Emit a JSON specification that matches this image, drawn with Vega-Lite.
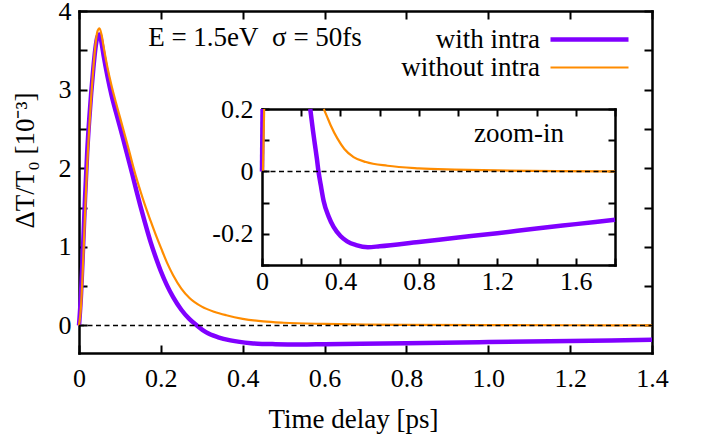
{
  "$schema": "https://vega.github.io/schema/vega-lite/v6.json",
  "width": 573,
  "height": 342,
  "autosize": {"type": "none"},
  "padding": {"left": 79, "top": 11, "right": 53, "bottom": 84},
  "background": "white",
  "datasets": {
    "main": [
      {"t": 0, "v": 0, "series": "with intra"},
      {"t": 0.005, "v": 0.4, "series": "with intra"},
      {"t": 0.01, "v": 1.0, "series": "with intra"},
      {"t": 0.015, "v": 1.65, "series": "with intra"},
      {"t": 0.02, "v": 2.2, "series": "with intra"},
      {"t": 0.025, "v": 2.62, "series": "with intra"},
      {"t": 0.03, "v": 2.97, "series": "with intra"},
      {"t": 0.035, "v": 3.27, "series": "with intra"},
      {"t": 0.04, "v": 3.52, "series": "with intra"},
      {"t": 0.045, "v": 3.67, "series": "with intra"},
      {"t": 0.05, "v": 3.7, "series": "with intra"},
      {"t": 0.055, "v": 3.6, "series": "with intra"},
      {"t": 0.06, "v": 3.44, "series": "with intra"},
      {"t": 0.07, "v": 3.16, "series": "with intra"},
      {"t": 0.08, "v": 2.92, "series": "with intra"},
      {"t": 0.09, "v": 2.72, "series": "with intra"},
      {"t": 0.1, "v": 2.53, "series": "with intra"},
      {"t": 0.11, "v": 2.33, "series": "with intra"},
      {"t": 0.12, "v": 2.13, "series": "with intra"},
      {"t": 0.13, "v": 1.93, "series": "with intra"},
      {"t": 0.14, "v": 1.72, "series": "with intra"},
      {"t": 0.15, "v": 1.52, "series": "with intra"},
      {"t": 0.16, "v": 1.33, "series": "with intra"},
      {"t": 0.175, "v": 1.06, "series": "with intra"},
      {"t": 0.19, "v": 0.83, "series": "with intra"},
      {"t": 0.2, "v": 0.69, "series": "with intra"},
      {"t": 0.215, "v": 0.51, "series": "with intra"},
      {"t": 0.23, "v": 0.36, "series": "with intra"},
      {"t": 0.25, "v": 0.2, "series": "with intra"},
      {"t": 0.27, "v": 0.08, "series": "with intra"},
      {"t": 0.288, "v": 0, "series": "with intra"},
      {"t": 0.31, "v": -0.085, "series": "with intra"},
      {"t": 0.34, "v": -0.15, "series": "with intra"},
      {"t": 0.37, "v": -0.19, "series": "with intra"},
      {"t": 0.42, "v": -0.225, "series": "with intra"},
      {"t": 0.48, "v": -0.238, "series": "with intra"},
      {"t": 0.54, "v": -0.242, "series": "with intra"},
      {"t": 0.6, "v": -0.238, "series": "with intra"},
      {"t": 0.8, "v": -0.225, "series": "with intra"},
      {"t": 1.0, "v": -0.211, "series": "with intra"},
      {"t": 1.2, "v": -0.197, "series": "with intra"},
      {"t": 1.4, "v": -0.183, "series": "with intra"},
      {"t": 0, "v": 0, "series": "without intra"},
      {"t": 0.005, "v": 0.25, "series": "without intra"},
      {"t": 0.01, "v": 0.8, "series": "without intra"},
      {"t": 0.015, "v": 1.45, "series": "without intra"},
      {"t": 0.02, "v": 2.05, "series": "without intra"},
      {"t": 0.025, "v": 2.52, "series": "without intra"},
      {"t": 0.03, "v": 2.92, "series": "without intra"},
      {"t": 0.035, "v": 3.27, "series": "without intra"},
      {"t": 0.04, "v": 3.56, "series": "without intra"},
      {"t": 0.045, "v": 3.74, "series": "without intra"},
      {"t": 0.05, "v": 3.78, "series": "without intra"},
      {"t": 0.055, "v": 3.7, "series": "without intra"},
      {"t": 0.06, "v": 3.55, "series": "without intra"},
      {"t": 0.07, "v": 3.27, "series": "without intra"},
      {"t": 0.08, "v": 3.04, "series": "without intra"},
      {"t": 0.09, "v": 2.84, "series": "without intra"},
      {"t": 0.1, "v": 2.65, "series": "without intra"},
      {"t": 0.11, "v": 2.46, "series": "without intra"},
      {"t": 0.12, "v": 2.27, "series": "without intra"},
      {"t": 0.13, "v": 2.07, "series": "without intra"},
      {"t": 0.14, "v": 1.88, "series": "without intra"},
      {"t": 0.15, "v": 1.71, "series": "without intra"},
      {"t": 0.16, "v": 1.55, "series": "without intra"},
      {"t": 0.175, "v": 1.33, "series": "without intra"},
      {"t": 0.19, "v": 1.12, "series": "without intra"},
      {"t": 0.2, "v": 0.99, "series": "without intra"},
      {"t": 0.215, "v": 0.8, "series": "without intra"},
      {"t": 0.23, "v": 0.64, "series": "without intra"},
      {"t": 0.25, "v": 0.47, "series": "without intra"},
      {"t": 0.27, "v": 0.35, "series": "without intra"},
      {"t": 0.3, "v": 0.24, "series": "without intra"},
      {"t": 0.33, "v": 0.175, "series": "without intra"},
      {"t": 0.36, "v": 0.13, "series": "without intra"},
      {"t": 0.4, "v": 0.085, "series": "without intra"},
      {"t": 0.45, "v": 0.052, "series": "without intra"},
      {"t": 0.5, "v": 0.035, "series": "without intra"},
      {"t": 0.6, "v": 0.02, "series": "without intra"},
      {"t": 0.7, "v": 0.012, "series": "without intra"},
      {"t": 0.8, "v": 0.008, "series": "without intra"},
      {"t": 1.0, "v": 0.005, "series": "without intra"},
      {"t": 1.2, "v": 0.003, "series": "without intra"},
      {"t": 1.4, "v": 0.002, "series": "without intra"}
    ],
    "inset": [
      {"t": 0, "v": 0, "series": "with intra", "seg": "a"},
      {"t": 0.003, "v": 0.2, "series": "with intra", "seg": "a"},
      {"t": 0.246, "v": 0.2, "series": "with intra", "seg": "b"},
      {"t": 0.26, "v": 0.13, "series": "with intra", "seg": "b"},
      {"t": 0.27, "v": 0.085, "series": "with intra", "seg": "b"},
      {"t": 0.28, "v": 0.04, "series": "with intra", "seg": "b"},
      {"t": 0.288, "v": 0, "series": "with intra", "seg": "b"},
      {"t": 0.3, "v": -0.045, "series": "with intra", "seg": "b"},
      {"t": 0.314, "v": -0.094, "series": "with intra", "seg": "b"},
      {"t": 0.34, "v": -0.145, "series": "with intra", "seg": "b"},
      {"t": 0.365, "v": -0.178, "series": "with intra", "seg": "b"},
      {"t": 0.4, "v": -0.207, "series": "with intra", "seg": "b"},
      {"t": 0.434, "v": -0.224, "series": "with intra", "seg": "b"},
      {"t": 0.48, "v": -0.236, "series": "with intra", "seg": "b"},
      {"t": 0.54, "v": -0.243, "series": "with intra", "seg": "b"},
      {"t": 0.6, "v": -0.24, "series": "with intra", "seg": "b"},
      {"t": 0.8, "v": -0.226, "series": "with intra", "seg": "b"},
      {"t": 1.0, "v": -0.212, "series": "with intra", "seg": "b"},
      {"t": 1.2, "v": -0.198, "series": "with intra", "seg": "b"},
      {"t": 1.4, "v": -0.183, "series": "with intra", "seg": "b"},
      {"t": 1.6, "v": -0.169, "series": "with intra", "seg": "b"},
      {"t": 1.8, "v": -0.155, "series": "with intra", "seg": "b"},
      {"t": 0.005, "v": 0, "series": "without intra", "seg": "a"},
      {"t": 0.011, "v": 0.2, "series": "without intra", "seg": "a"},
      {"t": 0.315, "v": 0.2, "series": "without intra", "seg": "b"},
      {"t": 0.33, "v": 0.178, "series": "without intra", "seg": "b"},
      {"t": 0.35, "v": 0.148, "series": "without intra", "seg": "b"},
      {"t": 0.385, "v": 0.105, "series": "without intra", "seg": "b"},
      {"t": 0.42, "v": 0.072, "series": "without intra", "seg": "b"},
      {"t": 0.467, "v": 0.046, "series": "without intra", "seg": "b"},
      {"t": 0.53, "v": 0.03, "series": "without intra", "seg": "b"},
      {"t": 0.64, "v": 0.018, "series": "without intra", "seg": "b"},
      {"t": 0.8, "v": 0.01, "series": "without intra", "seg": "b"},
      {"t": 0.98, "v": 0.006, "series": "without intra", "seg": "b"},
      {"t": 1.2, "v": 0.003, "series": "without intra", "seg": "b"},
      {"t": 1.5, "v": 0.001, "series": "without intra", "seg": "b"},
      {"t": 1.8, "v": 0.0, "series": "without intra", "seg": "b"}
    ]
  },
  "config": {
    "view": {"stroke": null},
    "axis": {
      "labelFont": "Liberation Serif",
      "labelFontSize": 26,
      "labelColor": "black",
      "tickColor": "black",
      "domainColor": "black",
      "domainWidth": 2.5,
      "domainCap": "square",
      "tickWidth": 2,
      "grid": false,
      "labelFlush": false,
      "labelOverlap": false,
      "labelBound": false,
      "titleFont": "Liberation Serif",
      "titleFontSize": 27,
      "titleFontWeight": "normal",
      "titleColor": "black",
      "zindex": 2
    }
  },
  "resolve": {
    "scale": {"x": "independent", "y": "independent"},
    "axis": {"x": "independent", "y": "independent"}
  },
  "layer": [
    {
      "layer": [
        {
          "data": {"name": "main"},
          "mark": {"type": "line", "interpolate": "monotone"},
          "encoding": {
            "x": {
              "field": "t", "type": "quantitative",
              "scale": {"domain": [0, 1.4], "nice": false, "zero": false},
              "axis": {
                "orient": "bottom",
                "values": [0, 0.2, 0.4, 0.6, 0.8, 1.0, 1.2, 1.4],
                "labelExpr": "datum.value === 0 ? '0' : format(datum.value, '.1f')",
                "labelFont": "Liberation Serif",
                "labelPadding": 20,
                "tickSize": -8,
                "encoding": {"labels": {"update": {"font": {"value": "Liberation Serif"}, "fontSize": {"value": 26}}}},
                "title": "Time delay [ps]",
                "titleX": 274,
                "titleY": 74,
                "titleBaseline": "alphabetic",
                "titleAlign": "center"
              }
            },
            "y": {
              "field": "v", "type": "quantitative",
              "scale": {"domain": [-0.35, 4], "nice": false, "zero": false},
              "axis": {
                "orient": "left",
                "values": [0, 0.5, 1, 1.5, 2, 2.5, 3, 3.5, 4],
                "labelExpr": "datum.value % 1 === 0 ? format(datum.value, 'd') : ''",
                "labelFont": "Liberation Serif",
                "labelPadding": 16,
                "tickSize": -8,
                "encoding": {"labels": {"update": {"font": {"value": "Liberation Serif"}, "fontSize": {"value": 26}}}},
                "title": "ΔT/T₀ [10⁻³]",
                "titleX": -54,
                "titleY": 149,
                "titleAngle": -90,
                "titleBaseline": "middle",
                "titleAlign": "center"
              }
            },
            "color": {
              "field": "series", "type": "nominal",
              "scale": {"domain": ["with intra", "without intra"], "range": ["#8000ff", "#ff8c00"]},
              "legend": {
                "orient": "none",
                "legendX": 495,
                "legendY": 13,
                "title": null,
                "symbolType": "M-3,0H3",
                "symbolSize": 676,
                "labelAlign": "right",
                "labelOffset": -65,
                "labelFont": "Liberation Serif",
                "labelFontSize": 27,
                "labelColor": "black",
                "labelLimit": 400,
                "rowPadding": 0,
                "padding": 0,
                "encode": {
                  "symbols": {
                    "update": {
                      "strokeWidth": {"signal": "datum.label === 'with intra' ? 4.5 : 2.2"}
                    }
                  }
                }
              }
            },
            "strokeWidth": {
              "field": "series", "type": "nominal",
              "scale": {"domain": ["with intra", "without intra"], "range": [4.5, 2.2]},
              "legend": null
            }
          }
        },
        {
          "data": {"values": [{}]},
          "mark": {"type": "text", "font": "Liberation Serif", "fontSize": 27, "color": "black", "align": "center", "baseline": "middle"},
          "encoding": {
            "x": {"datum": 0.43, "type": "quantitative"},
            "y": {"datum": 3.66, "type": "quantitative"},
            "text": {"value": "E = 1.5eV\u00a0 σ = 50fs"}
          }
        }
      ]
    },
    {
      "data": {"values": [{}]},
      "mark": {"type": "rule", "color": "black", "strokeWidth": 1.5, "strokeDash": [5, 3.5]},
      "encoding": {
        "x": {
          "datum": 0, "type": "quantitative",
          "scale": {"domain": [0, 1.4], "nice": false, "zero": false},
          "axis": {"orient": "top", "values": [0, 0.2, 0.4, 0.6, 0.8, 1.0, 1.2, 1.4], "labels": false, "title": null, "tickSize": -8}
        },
        "x2": {"datum": 1.4},
        "y": {
          "datum": 0, "type": "quantitative",
          "scale": {"domain": [-0.35, 4], "nice": false, "zero": false},
          "axis": {"orient": "right", "values": [0, 0.5, 1, 1.5, 2, 2.5, 3, 3.5, 4], "labels": false, "title": null, "tickSize": -8}
        }
      }
    },
    {
      "layer": [
        {
          "data": {"name": "inset"},
          "mark": {"type": "line", "interpolate": "monotone"},
          "encoding": {
            "x": {
              "field": "t", "type": "quantitative",
              "scale": {"domain": [0, 1.8], "range": [183, 536], "nice": false, "zero": false},
              "axis": {
                "orient": "bottom",
                "offset": -88,
                "values": [0, 0.2, 0.4, 0.6, 0.8, 1.0, 1.2, 1.4, 1.6, 1.8],
                "labelExpr": "round(datum.value * 10) % 4 === 0 ? (datum.value === 0 ? '0' : format(datum.value, '.1f')) : ''",
                "labelFont": "Liberation Serif",
                "labelPadding": 10,
                "tickSize": -7,
                "encoding": {"labels": {"update": {"font": {"value": "Liberation Serif"}, "fontSize": {"value": 26}}}},
                "title": null
              }
            },
            "y": {
              "field": "v", "type": "quantitative",
              "scale": {"domain": [-0.3, 0.2], "range": [254, 98], "nice": false, "zero": false},
              "axis": {
                "orient": "left",
                "offset": -183,
                "values": [-0.3, -0.2, -0.1, 0, 0.1, 0.2],
                "labelExpr": "round(datum.value * 10) % 2 === 0 ? (abs(datum.value) < 0.001 ? '0' : (datum.value < 0 ? '-' : '') + format(abs(datum.value), '.1f')) : ''",
                "labelFont": "Liberation Serif",
                "labelPadding": 16,
                "tickSize": -7,
                "encoding": {"labels": {"update": {"font": {"value": "Liberation Serif"}, "fontSize": {"value": 26}}}},
                "title": null
              }
            },
            "color": {
              "field": "series", "type": "nominal",
              "scale": {"domain": ["with intra", "without intra"], "range": ["#8000ff", "#ff8c00"]},
              "legend": null
            },
            "strokeWidth": {
              "field": "series", "type": "nominal",
              "scale": {"domain": ["with intra", "without intra"], "range": [4.5, 2.2]},
              "legend": null
            },
            "detail": {"field": "seg", "type": "nominal"}
          }
        },
        {
          "data": {"values": [{}]},
          "mark": {"type": "text", "font": "Liberation Serif", "fontSize": 27, "color": "black", "align": "center", "baseline": "middle"},
          "encoding": {
            "x": {"datum": 1.31, "type": "quantitative"},
            "y": {"datum": 0.12, "type": "quantitative"},
            "text": {"value": "zoom-in"}
          }
        }
      ]
    },
    {
      "data": {"values": [{}]},
      "mark": {"type": "rule", "color": "black", "strokeWidth": 1.5, "strokeDash": [5, 3.5]},
      "encoding": {
        "x": {
          "datum": 0, "type": "quantitative",
          "scale": {"domain": [0, 1.8], "range": [183, 536], "nice": false, "zero": false},
          "axis": {"orient": "top", "offset": -98, "values": [0, 0.2, 0.4, 0.6, 0.8, 1.0, 1.2, 1.4, 1.6, 1.8], "labels": false, "title": null, "tickSize": -7}
        },
        "x2": {"datum": 1.8},
        "y": {
          "datum": 0, "type": "quantitative",
          "scale": {"domain": [-0.3, 0.2], "range": [254, 98], "nice": false, "zero": false},
          "axis": {"orient": "right", "offset": -37, "values": [-0.3, -0.2, -0.1, 0, 0.1, 0.2], "labels": false, "title": null, "tickSize": -7}
        }
      }
    }
  ]
}
